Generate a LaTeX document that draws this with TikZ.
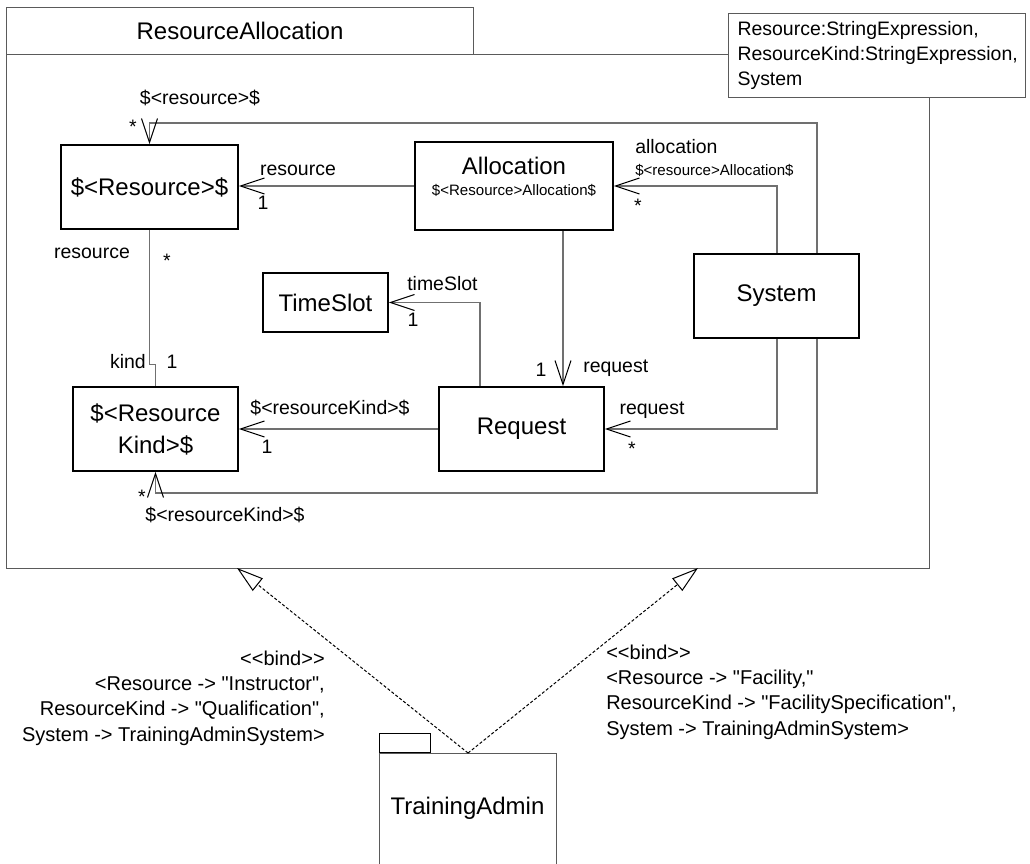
\documentclass[tikz,border=0pt]{standalone}
\usepackage{fontspec}
\setmainfont{Liberation Sans}[Ligatures=TeXOff]
\usetikzlibrary{arrows.meta,calc}
\definecolor{lngray}{HTML}{707070}
\definecolor{pkgray}{HTML}{5A5A5A}
\def\upx{0.75pt}
\newcommand\fbig{\fontsize{18}{24}\selectfont}
\newcommand\flab{\fontsize{14.6}{18}\selectfont}
\newcommand\fsml{\fontsize{11.3}{14}\selectfont}
\newcommand\fnote{\fontsize{15}{19}\selectfont}
\newcommand\fpar{\fontsize{14.6}{18.75}\selectfont}
\tikzset{
  cls/.style={draw=black, line width=1.4pt, fill=white, inner sep=0pt, font=\fbig, align=center},
  pkg/.style={draw=pkgray, line width=0.8pt, fill=white, inner sep=0pt},
  assoc/.style={draw=lngray, line width=0.8pt},
  nav/.style={assoc, -{Straight Barb[length=18pt,width=12pt,line width=0.75pt,color=black]}},
  bindarrow/.style={draw=black, line width=0.75pt, dash pattern=on 2.25pt off 1.5pt,
     -{Triangle[open,length=20pt,width=12pt,line width=0.75pt,color=black]}},
  lab/.style={font=\flab, inner sep=0pt},
  slab/.style={font=\fsml, inner sep=0pt},
  note/.style={font=\fnote, inner sep=0pt}
}
\begin{document}
\begin{tikzpicture}[x=0.75pt,y=-0.75pt]
\path[use as bounding box] (0,0) rectangle (1030,863);
\clip (0,0) rectangle (1030,863);

% outer package ResourceAllocation
\node[pkg, anchor=north west, minimum width=923*\upx, minimum height=514*\upx] (ra) at (6,54) {};
\node[pkg, anchor=north west, minimum width=467*\upx, minimum height=47*\upx, font=\fbig] (ratab) at (6,7) {ResourceAllocation};
% template parameters
\node[pkg, anchor=north west, minimum width=297*\upx, minimum height=84*\upx,
      text width=279*\upx, inner xsep=9*\upx, align=left, font=\fpar] (params) at (728,13)
  {Resource:StringExpression,\\ResourceKind:StringExpression,\\System};

% classes
\node[cls, minimum width=177*\upx, minimum height=84*\upx] (res) at (149.5,187) {\$<Resource>\$};
\node[cls, minimum width=198*\upx, minimum height=88*\upx] (alloc) at (514,186) {};
\node[font=\fbig, inner sep=0pt] (alloct) at (514,166) {Allocation};
\node[slab] (allocs) at (514,190) {\$<Resource>Allocation\$};
\node[cls, minimum width=125*\upx, minimum height=59*\upx] (ts) at (325.5,302.5) {TimeSlot};
\node[cls, minimum width=165*\upx, minimum height=84*\upx] (sys) at (776.5,296) {System};
\node[cls, minimum width=165*\upx, minimum height=84*\upx] (rk) at (155.5,429) {\$<Resource\\Kind>\$};
\node[cls, minimum width=165*\upx, minimum height=84*\upx] (req) at (521.5,429) {Request};

% helper coordinates
\coordinate (xar) at (563,0);
\coordinate (xsa) at (777,0);
\coordinate (toploop) at (817,123);
\coordinate (botloop) at (817,493);
\coordinate (xrt) at (480,0);

% associations
\draw[nav] (alloc.west) -- (alloc.west -| res.east);
\draw[nav] (alloc.south -| xar) -- (req.north -| xar);
\draw[nav] (sys.north -| xsa) |- (alloc.east);
\draw[nav] (sys.south -| xsa) |- (req.east);
\draw[nav] (sys.north -| toploop) -- (toploop) -| (res.north);
\draw[nav] (sys.south -| botloop) -- (botloop) -| (rk.south);
\draw[nav] (req.north -| xrt) |- (ts.east);
\draw[nav] (req.west) -- (rk.east);
\draw[assoc] (res.south) |- ($(rk.north)+(0,-22)$) -- (rk.north);

% association labels
\node[lab] (l1) at (200,98) {\$<resource>\$};
\node[lab] (l2) at (133,127) {*};
\node[lab] (l3) at (298,170) {resource};
\node[lab] (l4) at (263,203) {1};
\node[lab] (l5) at (92,253) {resource};
\node[lab] (l6) at (167,261) {*};
\node[lab, anchor=east] (l7) at (146,362) {kind};
\node[lab] (l8) at (172,362) {1};
\node[lab, anchor=west] (l9) at (635,147) {allocation};
\node[slab, anchor=west] (l10) at (635,170) {\$<resource>Allocation\$};
\node[lab] (l11) at (638,206) {*};
\node[lab, anchor=west] (l12) at (407,284) {timeSlot};
\node[lab] (l13) at (413,320) {1};
\node[lab] (l14) at (541,370) {1};
\node[lab, anchor=west] (l15) at (583,368) {request};
\node[lab] (l16) at (330,408) {\$<resourceKind>\$};
\node[lab] (l17) at (267,447) {1};
\node[lab] (l18) at (652,410) {request};
\node[lab] (l19) at (632,449) {*};
\node[lab] (l20) at (142,497) {*};
\node[lab] (l21) at (225,515) {\$<resourceKind>\$};

% TrainingAdmin package
\node[pkg, anchor=north west, minimum width=177*\upx, minimum height=140*\upx] (ta) at (379,753) {};
\node[pkg, draw=black, anchor=south west, minimum width=51*\upx, minimum height=19*\upx] (tatab) at (379,753) {};
\node[font=\fbig, inner sep=0pt] (talbl) at (467.5,808) {TrainingAdmin};

% bindings
\coordinate (bindL) at (237,568);
\coordinate (bindR) at (698,568);
\draw[bindarrow] (ta.north) -- (bindL);
\draw[bindarrow] (ta.north) -- (bindR);
\node[note, anchor=east, align=right] (bl) at (325,698)
  {<<bind>>\\<Resource -> "Instructor",\\ResourceKind -> "Qualification",\\System -> TrainingAdminSystem>};
\node[note, anchor=west, align=left] (br) at (606,692)
  {<<bind>>\\<Resource -> "Facility,"\\ResourceKind -> "FacilitySpecification",\\System -> TrainingAdminSystem>};
\end{tikzpicture}
\end{document}
